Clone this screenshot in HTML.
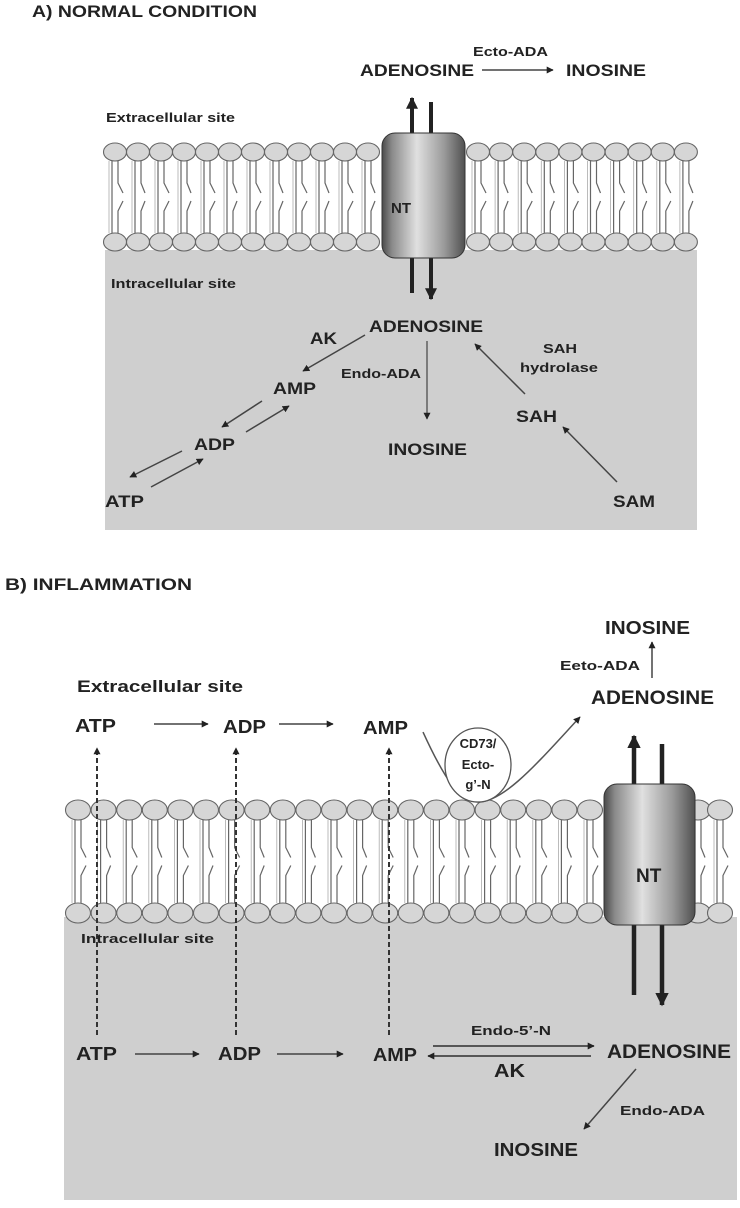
<!DOCTYPE html>
<html><head><meta charset="utf-8"><style>
html,body{margin:0;padding:0;background:#fff;}
svg{display:block;}
text{font-family:"Liberation Sans",Arial,sans-serif;font-weight:bold;fill:#222;}
</style></head><body>
<svg id="s" width="740" height="1208" viewBox="0 0 740 1208" xmlns="http://www.w3.org/2000/svg">
<defs>
<linearGradient id="nt" x1="0" x2="1" y1="0" y2="0">
<stop offset="0" stop-color="#4a4a4a"/><stop offset="0.12" stop-color="#8a8a8a"/><stop offset="0.42" stop-color="#e0e0e0"/><stop offset="0.75" stop-color="#9a9a9a"/><stop offset="1" stop-color="#505050"/>
</linearGradient>
<marker id="ah" viewBox="0 0 10 10" refX="9" refY="5" markerWidth="7" markerHeight="7" markerUnits="userSpaceOnUse" orient="auto"><path d="M0,0L10,5L0,10z" fill="#222"/></marker>
<marker id="ahb" viewBox="0 0 10 10" refX="9" refY="5" markerWidth="3" markerHeight="3" orient="auto"><path d="M0,0L10,5L0,10z" fill="#222"/></marker>
</defs>
<g id="bg">
<rect x="105" y="250" width="592" height="280" fill="#cfcfcf"/>
<rect x="64" y="917" width="673" height="283" fill="#cfcfcf"/>
</g>
<g id="lipA"></g><g id="lipB"></g>
<!-- Panel A -->
<text x="32" y="17" font-size="17" textLength="225" lengthAdjust="spacingAndGlyphs">A) NORMAL CONDITION</text>
<text x="473" y="56" font-size="13" font-weight="normal" textLength="75" lengthAdjust="spacingAndGlyphs">Ecto-ADA</text>
<text x="360" y="76" font-size="17" textLength="114" lengthAdjust="spacingAndGlyphs">ADENOSINE</text>
<line x1="482" y1="70" x2="553" y2="70" stroke="#444" stroke-width="1.5" marker-end="url(#ah)"/>
<text x="566" y="76" font-size="17" textLength="80" lengthAdjust="spacingAndGlyphs">INOSINE</text>
<text x="106" y="122" font-size="13" textLength="129" lengthAdjust="spacingAndGlyphs">Extracellular site</text>
<line x1="412" y1="133" x2="412" y2="98" stroke="#222" stroke-width="4" marker-end="url(#ahb)"/>
<line x1="431" y1="133" x2="431" y2="102" stroke="#222" stroke-width="4"/>
<line x1="412" y1="258" x2="412" y2="293" stroke="#222" stroke-width="4"/>
<line x1="431" y1="258" x2="431" y2="299" stroke="#222" stroke-width="4" marker-end="url(#ahb)"/>
<rect x="382" y="133" width="83" height="125" rx="13" fill="url(#nt)" stroke="#333" stroke-width="1"/>
<text x="391" y="213" font-size="15">NT</text>
<text x="111" y="288" font-size="13" textLength="125" lengthAdjust="spacingAndGlyphs" fill="#333">Intracellular site</text>
<text x="369" y="332" font-size="17" textLength="114" lengthAdjust="spacingAndGlyphs">ADENOSINE</text>
<text x="310" y="344" font-size="17" textLength="27" lengthAdjust="spacingAndGlyphs">AK</text>
<line x1="365" y1="335" x2="303" y2="371" stroke="#444" stroke-width="1.5" marker-end="url(#ah)"/>
<text x="341" y="378" font-size="13" font-weight="normal" textLength="80" lengthAdjust="spacingAndGlyphs">Endo-ADA</text>
<line x1="427" y1="341" x2="427" y2="419" stroke="#444" stroke-width="1.2" marker-end="url(#ah)"/>
<text x="273" y="394" font-size="17" textLength="43" lengthAdjust="spacingAndGlyphs">AMP</text>
<line x1="262" y1="401" x2="222" y2="427" stroke="#444" stroke-width="1.5" marker-end="url(#ah)"/>
<line x1="246" y1="432" x2="289" y2="406" stroke="#444" stroke-width="1.5" marker-end="url(#ah)"/>
<text x="194" y="450" font-size="17" textLength="41" lengthAdjust="spacingAndGlyphs">ADP</text>
<line x1="182" y1="451" x2="130" y2="477" stroke="#444" stroke-width="1.5" marker-end="url(#ah)"/>
<line x1="151" y1="487" x2="203" y2="459" stroke="#444" stroke-width="1.5" marker-end="url(#ah)"/>
<text x="105" y="507" font-size="17" textLength="39" lengthAdjust="spacingAndGlyphs">ATP</text>
<text x="388" y="455" font-size="17" textLength="79" lengthAdjust="spacingAndGlyphs">INOSINE</text>
<text x="543" y="353" font-size="13" font-weight="normal" textLength="34" lengthAdjust="spacingAndGlyphs">SAH</text>
<text x="520" y="372" font-size="13" font-weight="normal" textLength="78" lengthAdjust="spacingAndGlyphs">hydrolase</text>
<line x1="525" y1="394" x2="475" y2="344" stroke="#444" stroke-width="1.5" marker-end="url(#ah)"/>
<text x="516" y="422" font-size="17" textLength="41" lengthAdjust="spacingAndGlyphs">SAH</text>
<line x1="617" y1="482" x2="563" y2="427" stroke="#444" stroke-width="1.5" marker-end="url(#ah)"/>
<text x="613" y="507" font-size="17" textLength="42" lengthAdjust="spacingAndGlyphs">SAM</text>
<!-- Panel B -->
<text x="5" y="590" font-size="17" textLength="187" lengthAdjust="spacingAndGlyphs">B) INFLAMMATION</text>
<text x="605" y="634" font-size="18" textLength="85" lengthAdjust="spacingAndGlyphs">INOSINE</text>
<text x="560" y="670" font-size="13" textLength="80" lengthAdjust="spacingAndGlyphs">Eeto-ADA</text>
<line x1="652" y1="678" x2="652" y2="642" stroke="#444" stroke-width="1.5" marker-end="url(#ah)"/>
<text x="591" y="704" font-size="19" textLength="123" lengthAdjust="spacingAndGlyphs">ADENOSINE</text>
<text x="77" y="692" font-size="17" font-weight="normal" textLength="166" lengthAdjust="spacingAndGlyphs" style="font-weight:bold">Extracellular site</text>
<text x="75" y="732" font-size="18" textLength="41" lengthAdjust="spacingAndGlyphs">ATP</text>
<text x="223" y="733" font-size="18" textLength="43" lengthAdjust="spacingAndGlyphs">ADP</text>
<text x="363" y="734" font-size="18" textLength="45" lengthAdjust="spacingAndGlyphs">AMP</text>
<line x1="154" y1="724" x2="208" y2="724" stroke="#444" stroke-width="1.5" marker-end="url(#ah)"/>
<line x1="279" y1="724" x2="333" y2="724" stroke="#444" stroke-width="1.5" marker-end="url(#ah)"/>
<g id="dash"></g>
<path d="M423,732 C445,780 460,802 478,802 C505,802 540,760 580,717" fill="none" stroke="#555" stroke-width="1.5" marker-end="url(#ah)"/>
<ellipse cx="478" cy="765" rx="33" ry="37" fill="#fff" stroke="#555" stroke-width="1.3"/>
<text x="478" y="748" font-size="13" text-anchor="middle">CD73/</text>
<text x="478" y="769" font-size="13" text-anchor="middle">Ecto-</text>
<text x="478" y="789" font-size="13" text-anchor="middle">g’-N</text>
<line x1="634" y1="784" x2="634" y2="736" stroke="#222" stroke-width="4.5" marker-end="url(#ahb)"/>
<line x1="662" y1="784" x2="662" y2="744" stroke="#222" stroke-width="4.5"/>
<line x1="634" y1="925" x2="634" y2="995" stroke="#222" stroke-width="4.5"/>
<line x1="662" y1="925" x2="662" y2="1005" stroke="#222" stroke-width="4.5" marker-end="url(#ahb)"/>
<rect x="604" y="784" width="91" height="141" rx="13" fill="url(#nt)" stroke="#333" stroke-width="1"/>
<text x="636" y="882" font-size="19">NT</text>
<text x="81" y="943" font-size="13" textLength="133" lengthAdjust="spacingAndGlyphs" fill="#333">Intracellular site</text>
<text x="76" y="1060" font-size="18" textLength="41" lengthAdjust="spacingAndGlyphs">ATP</text>
<text x="218" y="1060" font-size="18" textLength="43" lengthAdjust="spacingAndGlyphs">ADP</text>
<text x="373" y="1061" font-size="18" textLength="44" lengthAdjust="spacingAndGlyphs">AMP</text>
<text x="607" y="1058" font-size="19" textLength="124" lengthAdjust="spacingAndGlyphs">ADENOSINE</text>
<line x1="135" y1="1054" x2="199" y2="1054" stroke="#444" stroke-width="1.5" marker-end="url(#ah)"/>
<line x1="277" y1="1054" x2="343" y2="1054" stroke="#444" stroke-width="1.5" marker-end="url(#ah)"/>
<text x="471" y="1035" font-size="13" textLength="80" lengthAdjust="spacingAndGlyphs">Endo-5’-N</text>
<line x1="433" y1="1046" x2="594" y2="1046" stroke="#444" stroke-width="1.8" marker-end="url(#ah)"/>
<line x1="591" y1="1056" x2="428" y2="1056" stroke="#444" stroke-width="1.8" marker-end="url(#ah)"/>
<text x="494" y="1077" font-size="18" textLength="31" lengthAdjust="spacingAndGlyphs">AK</text>
<line x1="636" y1="1069" x2="584" y2="1129" stroke="#444" stroke-width="1.5" marker-end="url(#ah)"/>
<text x="620" y="1115" font-size="13" textLength="85" lengthAdjust="spacingAndGlyphs">Endo-ADA</text>
<text x="494" y="1156" font-size="18" textLength="84" lengthAdjust="spacingAndGlyphs">INOSINE</text>
</svg>
<script>
(function(){
var NS="http://www.w3.org/2000/svg";
function el(p,t,a){var e=document.createElementNS(NS,t);for(var k in a)e.setAttribute(k,a[k]);p.insertBefore(e,p.firstChild&&t==='x'?p.firstChild:null);return e;}
function mem(g,xs,yt,yb,rx,ry){
  var mid=(yt+yb)/2;
  xs.forEach(function(x,i){
    var top=yt+ry, bot=yb-ry, k=(i%2)?4:5;
    var d="M"+(x-3)+","+top+"L"+(x-3)+","+bot+
      " M"+(x+3)+","+top+"L"+(x+3)+","+(mid-14)+"L"+(x+3+k)+","+(mid-4)+
      " M"+(x+3+k)+","+(mid+4)+"L"+(x+3)+","+(mid+14)+"L"+(x+3)+","+bot;
    el(g,"path",{d:d,fill:"none",stroke:"#666","stroke-width":"1.2"});
    el(g,"path",{d:"M"+(x-6)+","+top+"L"+(x-6)+","+bot,fill:"none",stroke:"#aaa","stroke-width":"0.8"});
  });
  xs.forEach(function(x){
    el(g,"ellipse",{cx:x,cy:yt,rx:rx,ry:ry,fill:"#d6d6d6",stroke:"#666","stroke-width":"1.1"});
    el(g,"ellipse",{cx:x,cy:yb,rx:rx,ry:ry,fill:"#d6d6d6",stroke:"#666","stroke-width":"1.1"});
  });
}
var a=[],i;
for(i=0;i<12;i++)a.push(115+i*23);
for(i=0;i<10;i++)a.push(478+i*23.1);
mem(document.getElementById("lipA"),a,152,242,11.5,9);
var b=[];
for(i=0;i<21;i++)b.push(78+i*25.6);
b.push(698);b.push(720);
mem(document.getElementById("lipB"),b,810,913,12.5,10);
var d=document.getElementById("dash");
[97,236,389].forEach(function(x){
  el(d,"line",{x1:x,y1:1035,x2:x,y2:748,stroke:"#333","stroke-width":"2","stroke-dasharray":"5,3","marker-end":"url(#ah)"});
});
})();
</script>
</body></html>
